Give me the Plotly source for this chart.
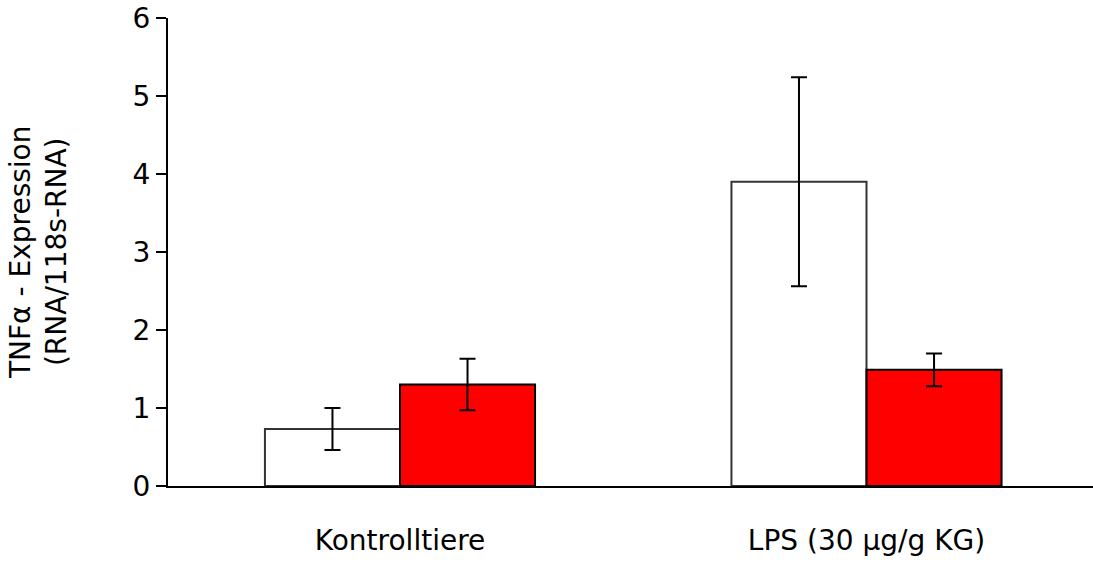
import plotly.graph_objects as go

categories = ["Kontrolltiere", "LPS (30 µg/g KG)"]
white_values = [0.73, 3.90]
white_errors = [0.27, 1.34]
red_values = [1.30, 1.49]
red_errors = [0.33, 0.21]
y_ticks = [0, 1, 2, 3, 4, 5, 6]

x_pos = list(range(len(categories)))
FONT = "DejaVu Sans"

fig = go.Figure()
fig.add_trace(go.Bar(
    x=x_pos, y=white_values,
    marker=dict(color="white", line=dict(color="#333333", width=2)),
    error_y=dict(type="data", array=white_errors, visible=True,
                 color="black", thickness=2, width=8),
    showlegend=False,
))
fig.add_trace(go.Bar(
    x=x_pos, y=red_values,
    marker=dict(color="#ff0000", line=dict(color="black", width=2)),
    error_y=dict(type="data", array=red_errors, visible=True,
                 color="black", thickness=2, width=8),
    showlegend=False,
))

fig.update_layout(
    width=1093, height=565,
    margin=dict(l=168, r=0, t=18, b=79),
    paper_bgcolor="white", plot_bgcolor="white",
    barmode="group", bargap=0.421, bargroupgap=0,
    font=dict(family=FONT, size=28, color="black"),
    xaxis=dict(
        range=[-0.4973, 1.4855],
        tickvals=x_pos, ticktext=categories,
        showline=True, linecolor="black", linewidth=2,
        showgrid=False, zeroline=False, ticks="",
        ticklabelstandoff=28,
        tickfont=dict(family=FONT, size=28, color="black"),
    ),
    yaxis=dict(
        range=[0, 6], tickvals=y_ticks,
        showline=True, linecolor="black", linewidth=2,
        showgrid=False, zeroline=False,
        ticks="outside", ticklen=10, tickwidth=2, tickcolor="black",
        tickfont=dict(family=FONT, size=28, color="black"),
    ),
    annotations=[dict(
        text="TNFα - Expression<br>(RNA/118s-RNA)",
        xref="paper", yref="paper",
        x=-0.1405, y=0.5, xanchor="center", yanchor="middle",
        textangle=-90, showarrow=False,
        font=dict(family=FONT, size=28, color="black"),
    )],
)

fig.write_html("out.html")
